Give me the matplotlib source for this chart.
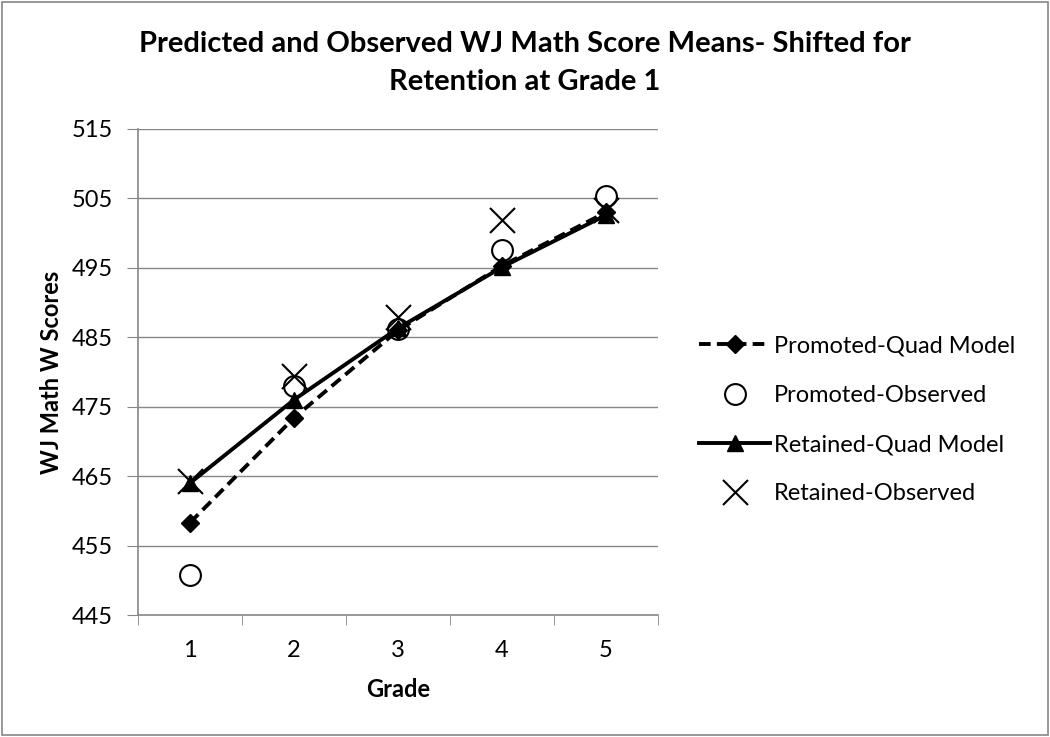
import numpy as np
import matplotlib
matplotlib.use("Agg")
import matplotlib.pyplot as plt
from matplotlib.patches import Rectangle

plt.rcParams['font.family'] = ['Lato', 'DejaVu Sans']

# data
grades = [1, 2, 3, 4, 5]
promoted_model = [458.3, 473.4, 486.0, 495.3, 503.0]
promoted_obs = [450.8, 478.0, 486.2, 497.6, 505.3]
retained_model = [464.0, 476.0, 486.3, 495.1, 502.6]
retained_obs = [464.3, 479.4, 487.9, 501.9, 503.4]
y_ticks = [445, 455, 465, 475, 485, 495, 505, 515]

fig = plt.figure(figsize=(10.5, 7.37), dpi=100)
ax = fig.add_axes([138 / 1050, 1 - 615 / 737, 520 / 1050, 486 / 737])

grid_col = '#868686'
for t in y_ticks[1:]:
    ax.axhline(t, color=grid_col, lw=1.0, zorder=0)

ax.plot(grades, promoted_model, color='black', lw=2.8, ls=(0, (3, 1.6)),
        marker='D', ms=9, label='Promoted-Quad Model', zorder=3)
ax.plot(grades, promoted_obs, ls='none', marker='o', ms=15, mfc='white',
        mec='black', mew=1.5, label='Promoted-Observed', zorder=2)
ax.plot(grades, retained_model, color='black', lw=2.8, marker='^', ms=12,
        label='Retained-Quad Model', zorder=4)
ax.plot(grades, retained_obs, ls='none', marker='x', ms=18, color='black',
        mew=1.5, label='Retained-Observed', zorder=5)

ax.set_xlim(0.5, 5.5)
ax.set_ylim(445, 515)
ax.set_yticks(y_ticks)
ax.set_xticks(grades)
ax.set_xticks([0.5, 1.5, 2.5, 3.5, 4.5, 5.5], minor=True)
ax.tick_params(axis='x', which='major', length=0, labelsize=17, pad=18)
ax.tick_params(axis='x', which='minor', length=7, color=grid_col)
ax.tick_params(axis='y', length=8, color=grid_col, labelsize=17, pad=10)
for s in ['top', 'right']:
    ax.spines[s].set_visible(False)
for s in ['left', 'bottom']:
    ax.spines[s].set_color(grid_col)
    ax.spines[s].set_linewidth(1.2)

ax.set_xlabel('Grade', fontsize=17, fontweight='bold', labelpad=12)
ax.set_ylabel('WJ Math W Scores', fontsize=17, fontweight='bold')
ax.yaxis.set_label_coords(-0.145, 0.5)
fig.text(0.5, 1 - 63 / 737,
         'Predicted and Observed WJ Math Score Means- Shifted for\nRetention at Grade 1',
         ha='center', va='center', fontsize=21, fontweight='bold', linespacing=1.55)

ax.legend(loc='center left', bbox_to_anchor=(678 / 1050, 1 - 420 / 737),
          bbox_transform=fig.transFigure, frameon=False, fontsize=17,
          handlelength=3.0, labelspacing=1.2, handletextpad=0.15)

fig.patches.append(Rectangle((0.002, 0.003), 0.996, 0.994, transform=fig.transFigure,
                             fill=False, edgecolor='#868686', lw=1.2))

fig.savefig('out.png', dpi=100)
